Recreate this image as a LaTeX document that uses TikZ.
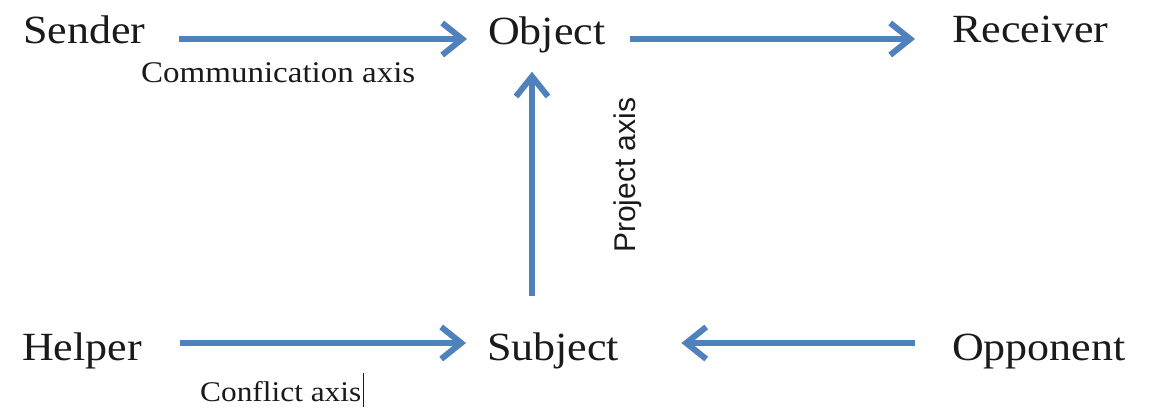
\documentclass[tikz,border=0pt]{standalone}
\usepackage{fontspec}
\setmainfont[FakeStretch=1.1]{Liberation Serif}
\newfontfamily\labelsans{Liberation Sans}
\usetikzlibrary{arrows.meta}
\definecolor{axisblue}{HTML}{4F81BD}
\definecolor{ink}{HTML}{1A1A1A}
\tikzset{
  actant/.style={anchor=base west, inner sep=0pt, text=ink,
    font=\fontsize{40}{48}\selectfont},
  axislabel/.style={anchor=base west, inner sep=0pt, text=ink},
  axisarrow/.style={draw=axisblue, line width=6pt,
    -{Straight Barb[length=20pt,width=32pt]}},
  cursorbar/.style={draw=ink, line width=1.4pt}
}
\begin{document}
\begin{tikzpicture}[x=1pt,y=1pt]
  \useasboundingbox (0,0) rectangle (1156,407);
  \fill[white] (0,0) rectangle (1156,407);

  % the six actants
  \node[actant] (sender)   at (23,363)  {Sender};
  \node[actant] (object)   at (488,362) {Object};
  \node[actant] (receiver) at (952,364) {Receiver};
  \node[actant] (helper)   at (22,47)   {Helper};
  \node[actant] (subject)  at (487,47)  {Subject};
  \node[actant] (opponent) at (952,47)  {Opponent};

  % communication axis
  \draw[axisarrow] ([shift={(33,5)}]sender.base east) -- ([shift={(-21,6)}]object.base west);
  \draw[axisarrow] ([shift={(24,6)}]object.base east) -- ([shift={(-37,4)}]receiver.base west);
  % project axis
  \draw[axisarrow] ([shift={(45,36)}]subject.north west) -- ([shift={(44,-18)}]object.south west);
  % conflict axis
  \draw[axisarrow] ([shift={(38,17)}]helper.base east) -- ([shift={(-21,17)}]subject.base west);
  \draw[axisarrow] ([shift={(-37,17)}]opponent.base west) -- ([shift={(62,17)}]subject.base east);

  % axis labels
  \node[axislabel, font=\fontsize{30}{36}\selectfont] (commlabel) at (141,324) {Communication axis};
  \node[axislabel, font=\fontsize{28.5}{34}\selectfont] (conflictlabel) at (200,6) {Conflict axis};
  \node[axislabel, font=\labelsans\fontsize{30}{36}\selectfont, rotate=90] (projectlabel) at (635,154) {Project axis};

  % text cursor after the conflict label
  \draw[cursorbar] ([shift={(2,-6)}]conflictlabel.base east) -- ++(0,34);
\end{tikzpicture}
\end{document}
